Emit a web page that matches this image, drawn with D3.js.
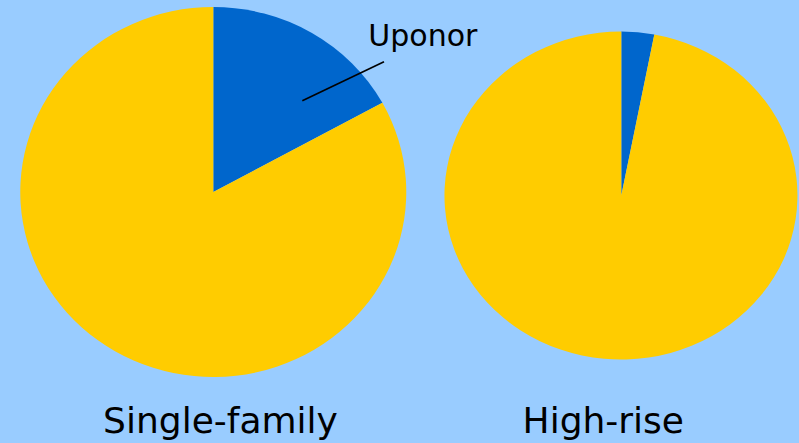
<!DOCTYPE html>
<html>
<head>
<meta charset="utf-8">
<script src="https://cdn.jsdelivr.net/npm/d3@7"></script>
<style>
  html, body { margin: 0; padding: 0; background: #99ccff; }
  svg { display: block; }
</style>
</head>
<body>
<div id="chart"></div>
<script>
// data
const segments = ['Uponor', 'Others'];
const markets = ['Single-family', 'High-rise'];
const singleFamily = [17, 83];
const highRise = [3, 97];

const width = 799, height = 443;
const colors = d3.scaleOrdinal().domain(segments).range(['#0066cc', '#ffcc00']);

// pies are slightly squashed in the original, so draw unit pies and scale them
const layout = [
  { cx: 213.3, cy: 192, rx: 193, ry: 185, labelX: 220.5 },
  { cx: 621.3, cy: 195.5, rx: 176.5, ry: 164, labelX: 603.3 }
];
const series = [singleFamily, highRise];

const svg = d3.select("#chart")
  .append("svg")
  .attr("width", width)
  .attr("height", height);

svg.append("rect")
  .attr("width", width)
  .attr("height", height)
  .attr("fill", "#99ccff");

const pie = d3.pie().sort(null);
const arc = d3.arc().innerRadius(0).outerRadius(1);

series.forEach((vals, i) => {
  const L = layout[i];
  const g = svg.append("g")
    .attr("transform", `translate(${L.cx},${L.cy}) scale(${L.rx},${L.ry})`);
  g.selectAll("path")
    .data(pie(vals))
    .join("path")
    .attr("d", arc)
    .attr("fill", (d, j) => colors(segments[j]));

  svg.append("text")
    .attr("x", L.labelX)
    .attr("y", 432.7)
    .attr("text-anchor", "middle")
    .style("font-family", "'DejaVu Sans', Verdana, sans-serif")
    .style("font-size", "36px")
    .style("fill", "#000")
    .text(markets[i]);
});

// leader line for the Uponor label
svg.append("line")
  .attr("x1", 302.3).attr("y1", 100.7)
  .attr("x2", 384).attr("y2", 61.7)
  .attr("stroke", "#000")
  .attr("stroke-width", 1.6);

svg.append("text")
  .attr("x", 368.3)
  .attr("y", 46)
  .style("font-family", "'DejaVu Sans', Verdana, sans-serif")
  .style("font-size", "30px")
  .style("fill", "#000")
  .text(segments[0]);
</script>
</body>
</html>
